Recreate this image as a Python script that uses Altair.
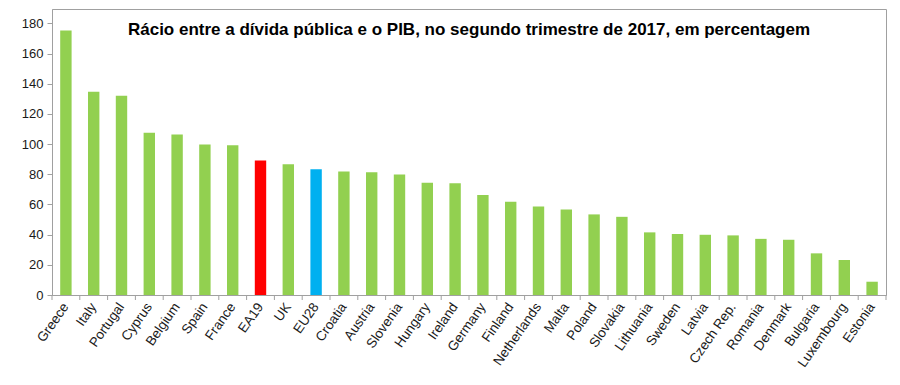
import altair as alt
import pandas as pd

countries = ["Greece", "Italy", "Portugal", "Cyprus", "Belgium", "Spain", "France", "EA19", "UK", "EU28",
             "Croatia", "Austria", "Slovenia", "Hungary", "Ireland", "Germany", "Finland", "Netherlands",
             "Malta", "Poland", "Slovakia", "Lithuania", "Sweden", "Latvia", "Czech Rep.", "Romania",
             "Denmark", "Bulgaria", "Luxembourg", "Estonia"]
values = [175.2, 134.7, 132.1, 107.5, 106.4, 99.7, 99.2, 89.1, 86.6, 83.4,
          81.8, 81.3, 79.8, 74.4, 74.1, 66.2, 61.8, 58.7,
          56.7, 53.4, 51.8, 41.5, 40.4, 39.9, 39.5, 37.2,
          36.6, 27.6, 23.2, 8.8]
groups = ["country"] * 7 + ["EA19", "country", "EU28"] + ["country"] * 20
y_ticks = [0, 20, 40, 60, 80, 100, 120, 140, 160, 180]

title = "Rácio entre a dívida pública e o PIB, no segundo trimestre de 2017, em percentagem"

df = pd.DataFrame({"country": countries, "value": values, "group": groups})

W, H = 834, 286
FONT = "Liberation Sans"
GRAY = "#a0a0a0"

xscale = alt.Scale(paddingInner=0, paddingOuter=0)
xenc = alt.X("country:N", sort=countries, scale=xscale,
             axis=alt.Axis(title=None, labelAngle=-55, labelFontSize=13.5, labelFont=FONT,
                           labelColor="#1a1a1a", ticks=False, domainColor=GRAY, labelPadding=9))

bars = alt.Chart(df).mark_bar(width=alt.RelativeBandSize(0.41)).encode(
    x=xenc,
    y=alt.Y("value:Q", scale=alt.Scale(domain=[0, 189.5], nice=False),
            axis=alt.Axis(title=None, values=y_ticks, labelFontSize=13, labelFont=FONT,
                          labelColor="#1a1a1a", tickColor=GRAY, domainColor=GRAY, tickSize=5,
                          grid=False, labelPadding=4)),
    color=alt.Color("group:N", scale=alt.Scale(domain=["country", "EA19", "EU28"],
                                               range=["#92d050", "#ff0000", "#00b0f0"]), legend=None),
)

ticks_start = alt.Chart(df).mark_rule(color=GRAY, strokeWidth=1).encode(
    x=alt.X("country:N", sort=countries, bandPosition=0),
    y=alt.value(H), y2=alt.value(H + 5),
)
ticks_end = alt.Chart(df.tail(1)).mark_rule(color=GRAY, strokeWidth=1).encode(
    x=alt.X("country:N", sort=countries, bandPosition=1),
    y=alt.value(H), y2=alt.value(H + 5),
)

chart = alt.layer(bars, ticks_start, ticks_end).properties(
    width=W, height=H,
    title=alt.TitleParams(title, fontSize=17, font=FONT, fontWeight="bold", anchor="middle",
                          offset=-30, color="#000000"),
    autosize=alt.AutoSizeParams(type="none"),
    padding={"left": 44, "top": 1, "right": 6, "bottom": 82},
).configure_view(stroke=GRAY, strokeWidth=1).configure_axis(labelFont=FONT)

chart.save("out.html", embed_options={"renderer": "svg", "actions": False})
